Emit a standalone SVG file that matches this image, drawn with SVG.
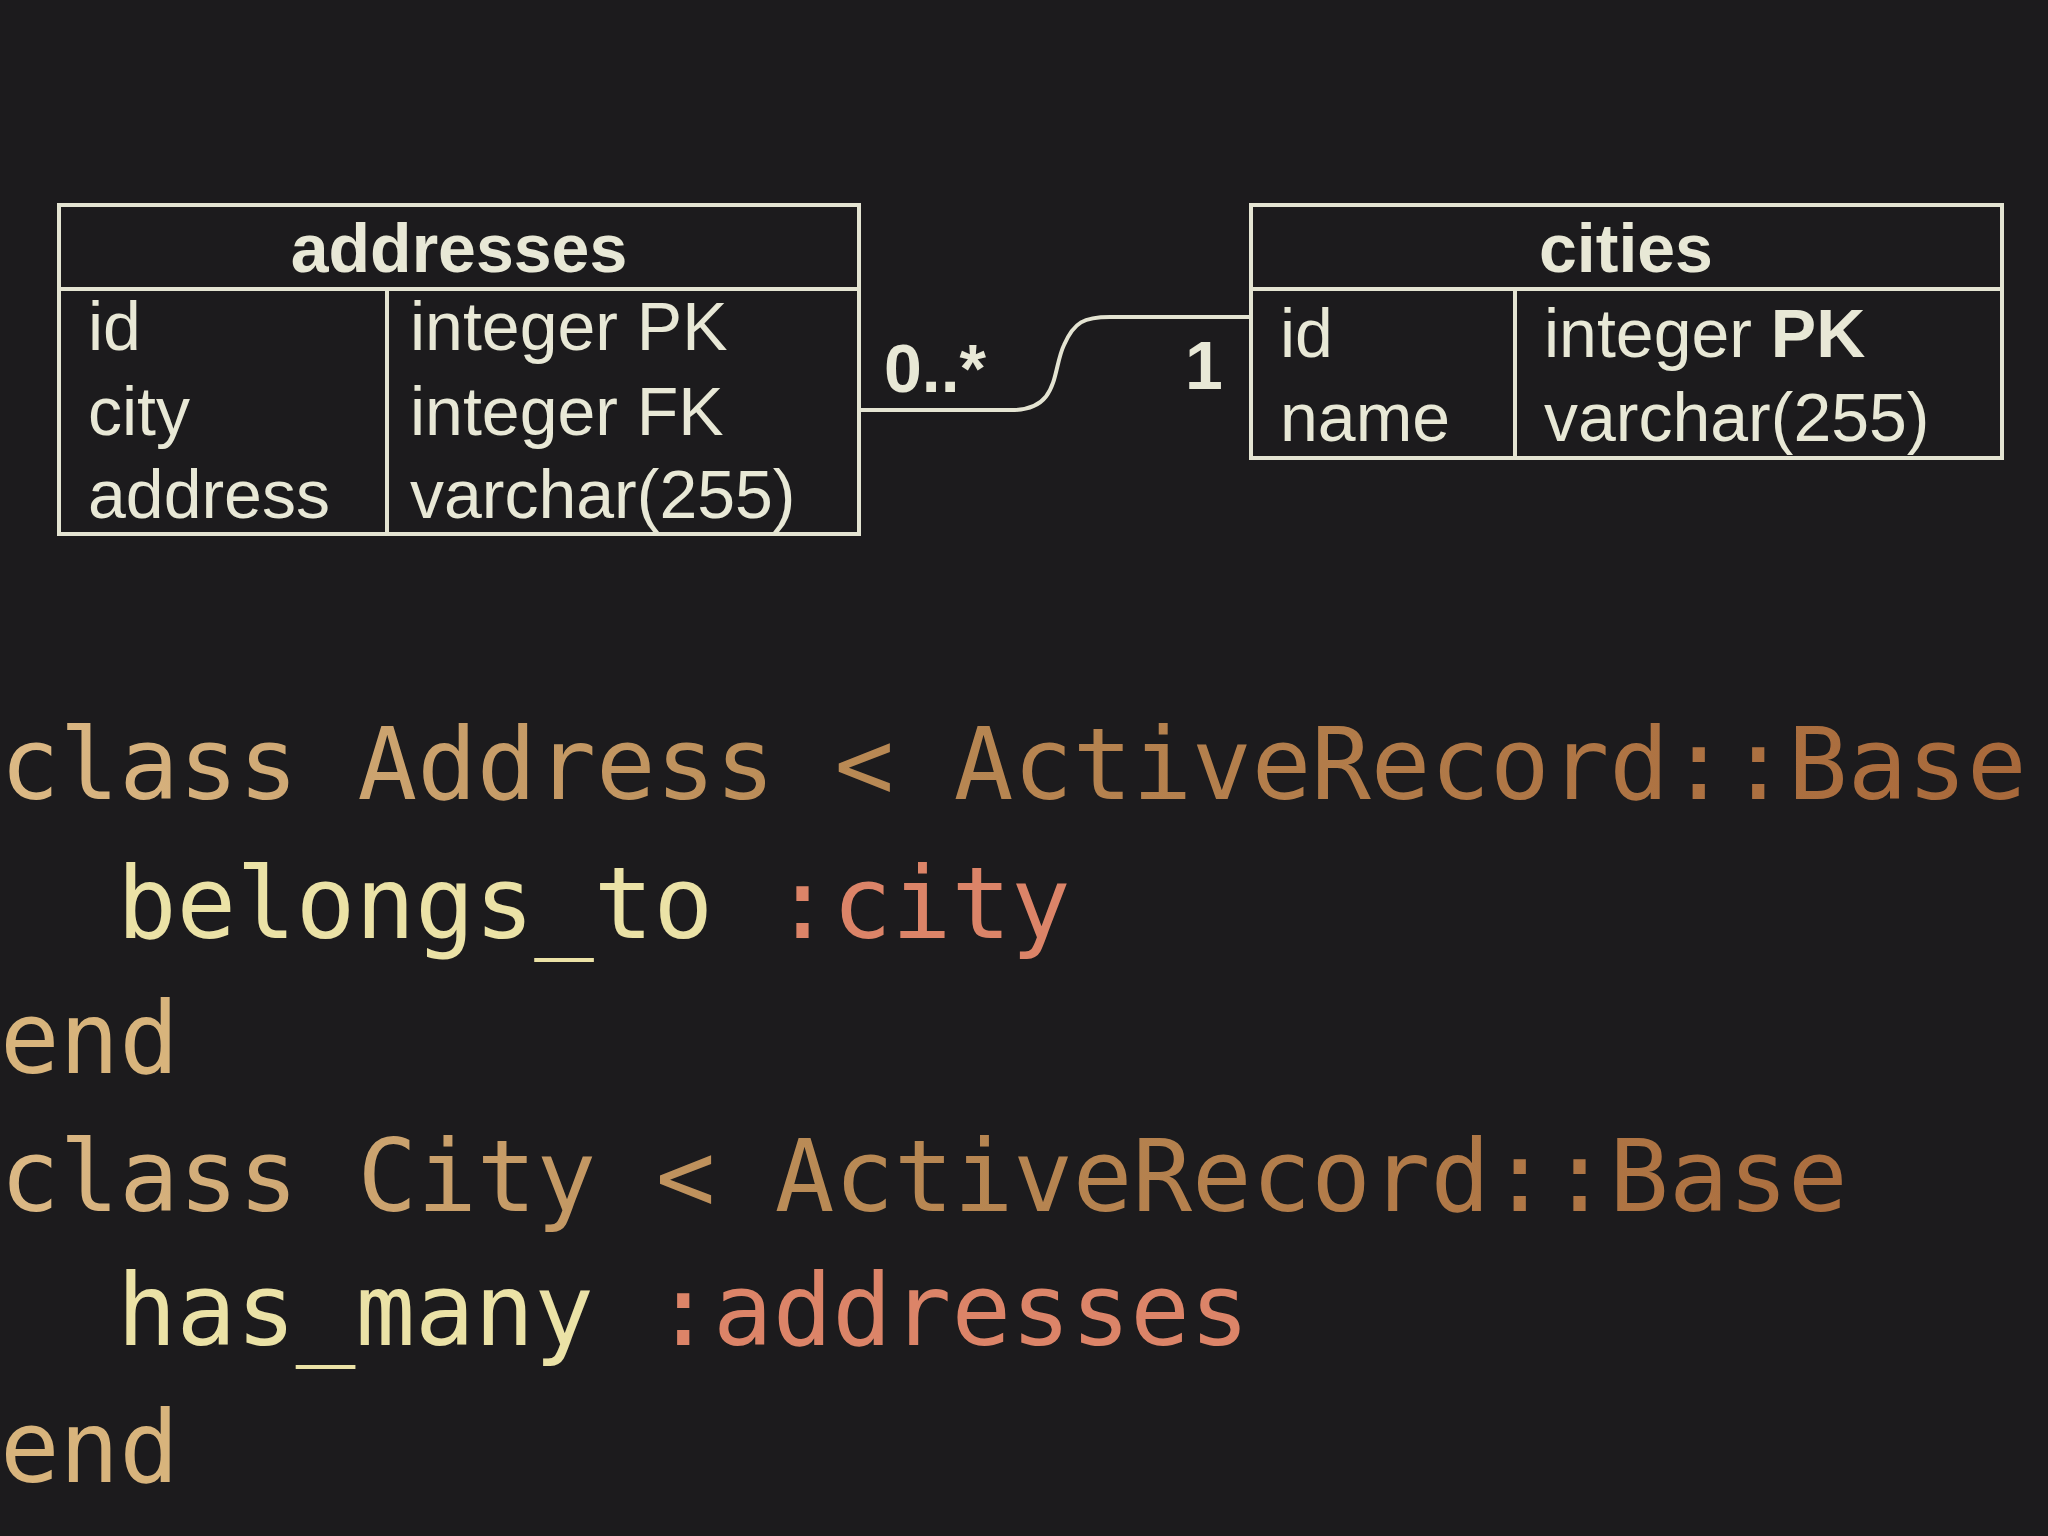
<svg xmlns="http://www.w3.org/2000/svg" width="2048" height="1536" viewBox="0 0 2048 1536">
<style>
.b{fill:none;stroke:#e4e4d2;stroke-width:4}
.t{font-family:"Liberation Sans",Arial,sans-serif;fill:#e8e8d6;font-size:68px}
.h{font-weight:bold;text-anchor:middle}
.c{font-family:"DejaVu Sans Mono",monospace;font-size:99px}
</style>
<defs><linearGradient id="g" x1="0" x2="2048" gradientUnits="userSpaceOnUse"><stop offset="0" stop-color="#dcb985"/><stop offset="0.4" stop-color="#b98a55"/><stop offset="1" stop-color="#a8683a"/></linearGradient></defs>
<rect width="2048" height="1536" fill="#1c1b1d"/>
<g id="addresses">
<rect x="59" y="205" width="800" height="329" class="b"/>
<line x1="59" y1="289" x2="859" y2="289" class="b"/>
<line x1="387" y1="289" x2="387" y2="534" class="b"/>
<text x="459" y="272" class="t h">addresses</text>
<text x="88" y="350" class="t">id</text><text x="88" y="435" class="t">city</text><text x="88" y="518" class="t">address</text>
<text x="410" y="350" class="t">integer PK</text><text x="410" y="435" class="t">integer FK</text><text x="410" y="518" class="t">varchar(255)</text>
</g>
<g id="cities">
<rect x="1251" y="205" width="751" height="253" class="b"/>
<line x1="1251" y1="289" x2="2002" y2="289" class="b"/>
<line x1="1515" y1="289" x2="1515" y2="458" class="b"/>
<text x="1626" y="272" class="t h">cities</text>
<text x="1280" y="357" class="t">id</text><text x="1280" y="441" class="t">name</text>
<text x="1544" y="357" class="t">integer <tspan font-weight="bold">PK</tspan></text><text x="1544" y="441" class="t">varchar(255)</text>
</g>
<g id="connectors">
<path d="M859 410 H1012 C1060 410 1052 370 1064 345 C1074 322 1084 317 1110 317 H1251" class="b"/>
<text x="884" y="392" class="t" font-size="50" font-weight="bold">0..*</text>
<text x="1185" y="389" class="t" font-size="50" font-weight="bold">1</text>
</g>
<g id="code" class="c">
<text x="0" y="799" fill="url(#g)">class Address &lt; ActiveRecord::Base</text>
<text x="117" y="938"><tspan fill="#ebe2a6">belongs_to </tspan><tspan fill="#dc8468">:city</tspan></text>
<text x="0" y="1073" fill="#d8b47c">end</text>
<text x="0" y="1211" fill="url(#g)">class City &lt; ActiveRecord::Base</text>
<text x="117" y="1345"><tspan fill="#ebe2a6">has_many </tspan><tspan fill="#dc8468">:addresses</tspan></text>
<text x="0" y="1482" fill="#d8b47c">end</text>
</g>
</svg>
